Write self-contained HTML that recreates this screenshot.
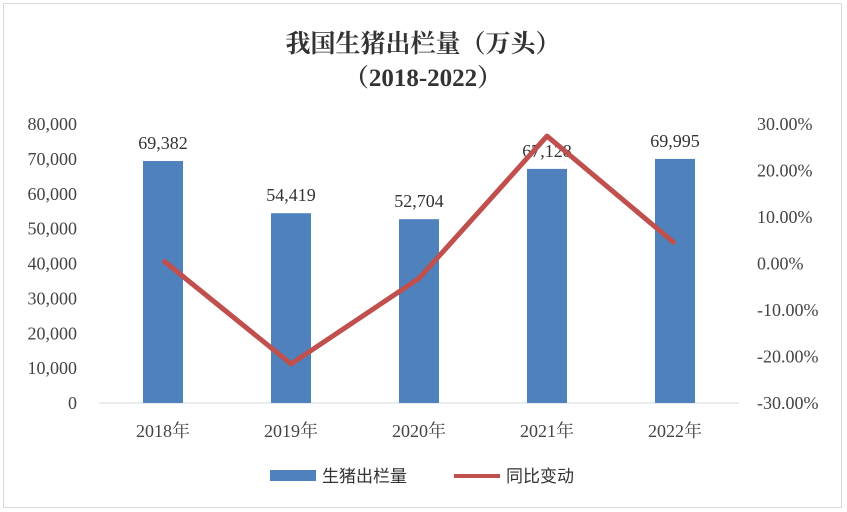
<!DOCTYPE html>
<html><head><meta charset="utf-8"><style>
html,body{margin:0;padding:0;background:#fff;}
svg{display:block;}
</style></head><body>
<svg width="847" height="512" viewBox="0 0 847 512" xmlns="http://www.w3.org/2000/svg">
<rect x="3.5" y="3.5" width="838" height="504" fill="#fff" stroke="#d9d9d9"/>
<text x="423" y="52" text-anchor="middle" font-family="'Liberation Serif','Noto Serif CJK SC',serif" font-size="25" font-weight="bold" fill="#333">我国生猪出栏量（万头）</text>
<text x="423" y="86" text-anchor="middle" font-family="'Liberation Serif','Noto Serif CJK SC',serif" font-size="25" font-weight="bold" fill="#333">（2018-2022）</text>
<g id="plot"></g>
<g>
<rect x="270" y="470" width="46" height="11" fill="#4f81bd"/>
<text x="322" y="482" font-family="'Liberation Sans','Noto Sans CJK SC',sans-serif" font-size="17" fill="#333">生猪出栏量</text>
<line x1="454" y1="476" x2="500" y2="476" stroke="#c0504d" stroke-width="4"/>
<text x="506" y="482" font-family="'Liberation Sans','Noto Sans CJK SC',sans-serif" font-size="17" fill="#333">同比变动</text>
</g>
</svg>
<script>
const categories = ["2018年","2019年","2020年","2021年","2022年"];
const output = [69382,54419,52704,67128,69995];
const yoy = [0.7,-21.6,-3.2,27.4,4.3];
const leftTicks = [0,10000,20000,30000,40000,50000,60000,70000,80000];
const rightTicks = [-30,-20,-10,0,10,20,30];

const NS="http://www.w3.org/2000/svg";
const g=document.getElementById('plot');
const X0=99,X1=739,Y0=403,Y1=124;
const step=(X1-X0)/categories.length;
const xc=i=>X0+step*(i+0.5);
const yL=v=>Y0-(v/80000)*(Y0-Y1);
const yR=v=>Y0-((v+30)/60)*(Y0-Y1);
const font="'Liberation Serif','Noto Serif CJK SC',serif";
function mk(tag,attrs,txt){const e=document.createElementNS(NS,tag);for(const k in attrs)e.setAttribute(k,attrs[k]);if(txt!==undefined)e.textContent=txt;g.appendChild(e);return e;}
const fmt=v=>v.toLocaleString('en-US');
leftTicks.forEach(t=>{
 const e=mk('text',{x:77,y:yL(t)+6,'text-anchor':'end','font-family':font,'font-size':18,fill:'#444'},fmt(t));
 
 
});
rightTicks.forEach(t=>{
 const e=mk('text',{x:757,y:yR(t)+6,'font-family':font,'font-size':18,fill:'#444'},t.toFixed(2)+'%');
 
 
});
const ax=mk('line',{x1:X0,y1:Y0,x2:X1,y2:Y0,stroke:'#d9d9d9','stroke-width':1});


categories.forEach((c,i)=>{
 const b=mk('rect',{x:xc(i)-20,y:yL(output[i]),width:40,height:Y0-yL(output[i]),fill:'#4f81bd'});
 
 
 const l=mk('text',{x:xc(i),y:yL(output[i])-12,'text-anchor':'middle','font-family':font,'font-size':18,fill:'#333'},fmt(output[i]));
 
 
 const t=mk('text',{x:xc(i),y:437,'text-anchor':'middle','font-family':font,'font-size':18,fill:'#444'},c);
 
 
});
const pts=yoy.map((v,i)=>xc(i)+','+yR(v)).join(' ');
const pl=mk('polyline',{points:pts,fill:'none',stroke:'#c0504d','stroke-width':5,'stroke-linejoin':'round'});


</script>
</body></html>
